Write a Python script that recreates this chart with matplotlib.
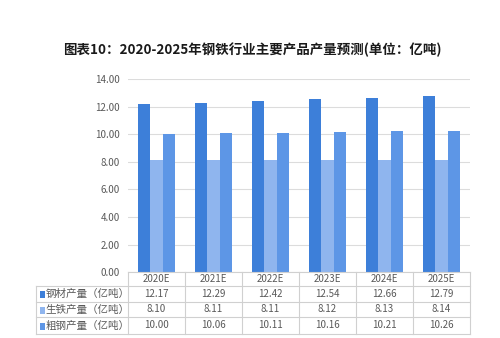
import matplotlib.pyplot as plt
from matplotlib.transforms import blended_transform_factory
from matplotlib.lines import Line2D
from matplotlib.patches import Rectangle

plt.rcParams['font.family'] = ['Noto Sans CJK SC', 'DejaVu Sans']

years = ["2020E", "2021E", "2022E", "2023E", "2024E", "2025E"]
steel = [12.17, 12.29, 12.42, 12.54, 12.66, 12.79]
pig_iron = [8.10, 8.11, 8.11, 8.12, 8.13, 8.14]
crude = [10.00, 10.06, 10.11, 10.16, 10.21, 10.26]
series_names = ["钢材产量（亿吨）", "生铁产量（亿吨）", "粗钢产量（亿吨）"]
colors = ["#3d7fd9", "#8fb5ee", "#5d96e6"]
yticks = [0, 2, 4, 6, 8, 10, 12, 14]

txt = "#595959"
grid = "#dcdcdc"

fig = plt.figure(figsize=(5, 3.38), dpi=100)
fig.patch.set_facecolor("white")
ax = fig.add_axes([0.256, 0.195, 0.684, 0.571])

x = list(range(len(years)))
w = 0.222
for k, vals in enumerate([steel, pig_iron, crude]):
    ax.bar([i + (k - 1) * w for i in x], vals, width=w, color=colors[k], zorder=3)

ax.set_xlim(-0.5, len(years) - 0.5)
ax.set_ylim(0, 14)
ax.set_yticks(yticks)
ax.set_yticklabels([f"{v:.2f}" for v in yticks], fontsize=7, color=txt)
ax.tick_params(axis="y", length=0, pad=6)
ax.set_xticks([])
ax.yaxis.grid(True, color=grid, lw=0.8, zorder=0)
for s in ax.spines.values():
    s.set_visible(False)

fig.text(0.505, 0.852, "图表10：2020-2025年钢铁行业主要产品产量预测(单位：亿吨)",
         ha="center", va="center", fontsize=9.7, fontweight="bold", color="#1a1a1a")

# data table below the axes
tr = blended_transform_factory(ax.transData, fig.transFigure)
row_y = [272, 286, 302, 317, 334]  # row boundaries in pixels from top
fy = [1 - v / 338 for v in row_y]
lc = "#d0d0d0"
left_fx = 36 / 500
ax_left = 0.256
ax_right = 0.94

# horizontal lines
fig.add_artist(Line2D([ax_left, ax_right], [fy[0], fy[0]], color=lc, lw=0.8))
for yy in fy[1:]:
    fig.add_artist(Line2D([left_fx, ax_right], [yy, yy], color=lc, lw=0.8))
# vertical lines
fig.add_artist(Line2D([left_fx, left_fx], [fy[1], fy[-1]], color=lc, lw=0.8))
for i in range(len(years) + 1):
    xv = ax_left + (ax_right - ax_left) * i / len(years)
    fig.add_artist(Line2D([xv, xv], [fy[0], fy[-1]], color=lc, lw=0.8))

for i, yr in enumerate(years):
    ax.text(i, (fy[0] + fy[1]) / 2, yr, transform=tr, ha="center", va="center",
            fontsize=7, color=txt, clip_on=False)

rows = [steel, pig_iron, crude]
for r, vals in enumerate(rows):
    yc = (fy[r + 1] + fy[r + 2]) / 2
    for i, v in enumerate(vals):
        ax.text(i, yc, f"{v:.2f}", transform=tr, ha="center", va="center",
                fontsize=7, color=txt, clip_on=False)
    fig.add_artist(Rectangle((0.08, yc - 0.012), 0.01, 0.02,
                             transform=fig.transFigure, color=colors[r], lw=0))
    fig.text(0.091, yc, series_names[r], ha="left", va="center",
             fontsize=7.6, color=txt)

fig.savefig("out.png", dpi=100)
